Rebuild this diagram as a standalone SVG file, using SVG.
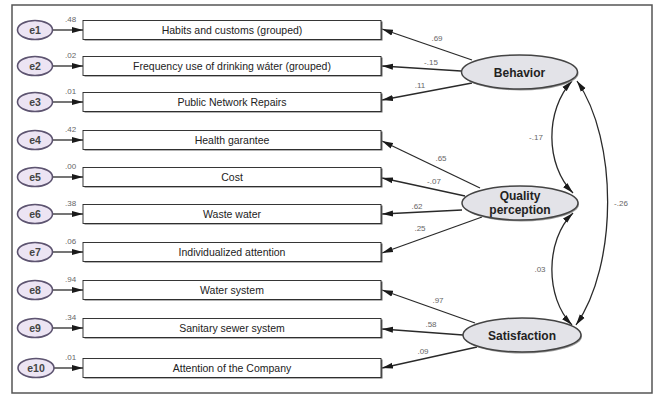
<svg xmlns="http://www.w3.org/2000/svg" width="660" height="396" viewBox="0 0 660 396">
<defs>
<marker id="ah" markerUnits="userSpaceOnUse" markerWidth="12" markerHeight="7" refX="11" refY="3.5" orient="auto-start-reverse">
<path d="M0,0.5 L11,3.5 L0,6.5 z" fill="#1a1a1a"/>
</marker>
<style>
.frame{fill:#fff;stroke:#555;stroke-width:1.5}
.sh{fill:#666}
.box{fill:#fff;stroke:#222;stroke-width:0.9}
.err{fill:#ece4f3;stroke:#5d5470;stroke-width:1.6}
.lat{fill:#e3e3e8;stroke:#444;stroke-width:1.5}
.latsh{fill:#9a9a9a}
.et{font-family:"Liberation Sans",Arial,sans-serif;font-size:10.5px;font-weight:bold;fill:#444;text-anchor:middle}
.bt{font-family:"Liberation Sans",Arial,sans-serif;font-size:10.5px;fill:#222;text-anchor:middle}
.lt{font-family:"Liberation Sans",Arial,sans-serif;font-size:12px;font-weight:bold;fill:#222;text-anchor:middle}
.nt{font-family:"Liberation Sans",Arial,sans-serif;font-size:8px;fill:#666}
.nc{font-family:"Liberation Sans",Arial,sans-serif;font-size:8px;fill:#666;text-anchor:middle}
.c{fill:none;stroke:#2a2a2a;stroke-width:1.3;marker-end:url(#ah)}
.cv{fill:none;stroke:#2a2a2a;stroke-width:1.3;marker-start:url(#ah);marker-end:url(#ah)}
</style>
</defs>
<rect class="frame" x="12" y="5" width="640" height="388"/>

<g id="connectors">
<line class="c" x1="53" y1="30" x2="83" y2="30"/>
<line class="c" x1="53" y1="66" x2="83" y2="66"/>
<line class="c" x1="53" y1="102" x2="83" y2="102"/>
<line class="c" x1="53" y1="140" x2="83" y2="140"/>
<line class="c" x1="53" y1="177" x2="83" y2="177"/>
<line class="c" x1="53" y1="214" x2="83" y2="214"/>
<line class="c" x1="53" y1="252" x2="83" y2="252"/>
<line class="c" x1="53" y1="290" x2="83" y2="290"/>
<line class="c" x1="53" y1="328" x2="83" y2="328"/>
<line class="c" x1="54" y1="368" x2="83" y2="368"/>
<line class="c" x1="472" y1="60" x2="382" y2="29"/>
<line class="c" x1="461" y1="71" x2="382" y2="66"/>
<line class="c" x1="472" y1="83" x2="382" y2="100"/>
<line class="c" x1="480" y1="188" x2="382" y2="141"/>
<line class="c" x1="465" y1="196" x2="382" y2="178"/>
<line class="c" x1="462" y1="210" x2="382" y2="214"/>
<line class="c" x1="482" y1="217" x2="382" y2="253"/>
<line class="c" x1="475" y1="323" x2="382" y2="290"/>
<line class="c" x1="463" y1="335" x2="382" y2="329"/>
<line class="c" x1="477" y1="347" x2="382" y2="368"/>
<path class="cv" d="M572,81 C545,110 545,165 573,193"/>
<path class="cv" d="M573,213 C545,240 545,298 572,325"/>
<path class="cv" d="M577,81 C618,140 618,265 576,325"/>
</g>

<g id="labels">
<text class="nt" x="65" y="22">.48</text>
<text class="nt" x="65" y="58">.02</text>
<text class="nt" x="65" y="94">.01</text>
<text class="nt" x="65" y="132">.42</text>
<text class="nt" x="65" y="169">.00</text>
<text class="nt" x="65" y="206">.38</text>
<text class="nt" x="65" y="244">.06</text>
<text class="nt" x="65" y="282">.94</text>
<text class="nt" x="65" y="320">.34</text>
<text class="nt" x="65" y="360">.01</text>
<text class="nc" x="437" y="41">.69</text>
<text class="nc" x="431" y="65">-.15</text>
<text class="nc" x="420" y="88">.11</text>
<text class="nc" x="536" y="140">-.17</text>
<text class="nc" x="441" y="161">.65</text>
<text class="nc" x="434" y="184">-.07</text>
<text class="nc" x="417" y="209">.62</text>
<text class="nc" x="420" y="231">.25</text>
<text class="nc" x="540" y="272">.03</text>
<text class="nc" x="438" y="303">.97</text>
<text class="nc" x="431" y="327">.58</text>
<text class="nc" x="423" y="354">.09</text>
<text class="nc" x="621" y="206">-.26</text>
</g>

<g id="e1"><ellipse class="err" cx="35" cy="30" rx="17.5" ry="9.5"/><text class="et" x="35" y="34">e1</text></g>
<g id="e2"><ellipse class="err" cx="35" cy="66" rx="17.5" ry="9.5"/><text class="et" x="35" y="70">e2</text></g>
<g id="e3"><ellipse class="err" cx="35" cy="102" rx="17.5" ry="9.5"/><text class="et" x="35" y="106">e3</text></g>
<g id="e4"><ellipse class="err" cx="35" cy="140" rx="17.5" ry="9.5"/><text class="et" x="35" y="144">e4</text></g>
<g id="e5"><ellipse class="err" cx="35" cy="177" rx="17.5" ry="9.5"/><text class="et" x="35" y="181">e5</text></g>
<g id="e6"><ellipse class="err" cx="35" cy="214" rx="17.5" ry="9.5"/><text class="et" x="35" y="218">e6</text></g>
<g id="e7"><ellipse class="err" cx="35" cy="252" rx="17.5" ry="9.5"/><text class="et" x="35" y="256">e7</text></g>
<g id="e8"><ellipse class="err" cx="35" cy="290" rx="17.5" ry="9.5"/><text class="et" x="35" y="294">e8</text></g>
<g id="e9"><ellipse class="err" cx="35" cy="328" rx="17.5" ry="9.5"/><text class="et" x="35" y="332">e9</text></g>
<g id="e10"><ellipse class="err" cx="36" cy="368" rx="18" ry="9.5"/><text class="et" x="36" y="372">e10</text></g>

<g id="v1"><rect class="sh" x="84.5" y="21.5" width="298" height="19"/><rect class="box" x="83" y="20.5" width="298" height="19"/><text class="bt" x="232" y="34">Habits and customs (grouped)</text></g>
<g id="v2"><rect class="sh" x="84.5" y="57.5" width="298" height="19"/><rect class="box" x="83" y="56.5" width="298" height="19"/><text class="bt" x="232" y="70">Frequency use of drinking wáter (grouped)</text></g>
<g id="v3"><rect class="sh" x="84.5" y="93.5" width="298" height="19"/><rect class="box" x="83" y="92.5" width="298" height="19"/><text class="bt" x="232" y="106">Public Network Repairs</text></g>
<g id="v4"><rect class="sh" x="84.5" y="131.5" width="298" height="19"/><rect class="box" x="83" y="130.5" width="298" height="19"/><text class="bt" x="232" y="144">Health garantee</text></g>
<g id="v5"><rect class="sh" x="84.5" y="168.5" width="298" height="19"/><rect class="box" x="83" y="167.5" width="298" height="19"/><text class="bt" x="232" y="181">Cost</text></g>
<g id="v6"><rect class="sh" x="84.5" y="205.5" width="298" height="19"/><rect class="box" x="83" y="204.5" width="298" height="19"/><text class="bt" x="232" y="218">Waste water</text></g>
<g id="v7"><rect class="sh" x="84.5" y="243.5" width="298" height="19"/><rect class="box" x="83" y="242.5" width="298" height="19"/><text class="bt" x="232" y="256">Individualized attention</text></g>
<g id="v8"><rect class="sh" x="84.5" y="281.5" width="298" height="19"/><rect class="box" x="83" y="280.5" width="298" height="19"/><text class="bt" x="232" y="294">Water system</text></g>
<g id="v9"><rect class="sh" x="84.5" y="319.5" width="298" height="19"/><rect class="box" x="83" y="318.5" width="298" height="19"/><text class="bt" x="232" y="332">Sanitary sewer system</text></g>
<g id="v10"><rect class="sh" x="84.5" y="359.5" width="298" height="19"/><rect class="box" x="83" y="358.5" width="298" height="19"/><text class="bt" x="232" y="372">Attention of the Company</text></g>

<g id="behavior"><ellipse class="latsh" cx="520.5" cy="73.5" rx="58" ry="17"/><ellipse class="lat" cx="519.5" cy="72" rx="58" ry="17"/><text class="lt" x="519.5" y="76.5">Behavior</text></g>
<g id="quality"><ellipse class="latsh" cx="521" cy="204.5" rx="58" ry="17"/><ellipse class="lat" cx="520" cy="203" rx="58" ry="17"/><text class="lt" x="520" y="200">Quality</text><text class="lt" x="520" y="214">perception</text></g>
<g id="satisfaction"><ellipse class="latsh" cx="523" cy="336.5" rx="59" ry="17"/><ellipse class="lat" cx="522" cy="335" rx="59" ry="17"/><text class="lt" x="522" y="339.5">Satisfaction</text></g>
</svg>
